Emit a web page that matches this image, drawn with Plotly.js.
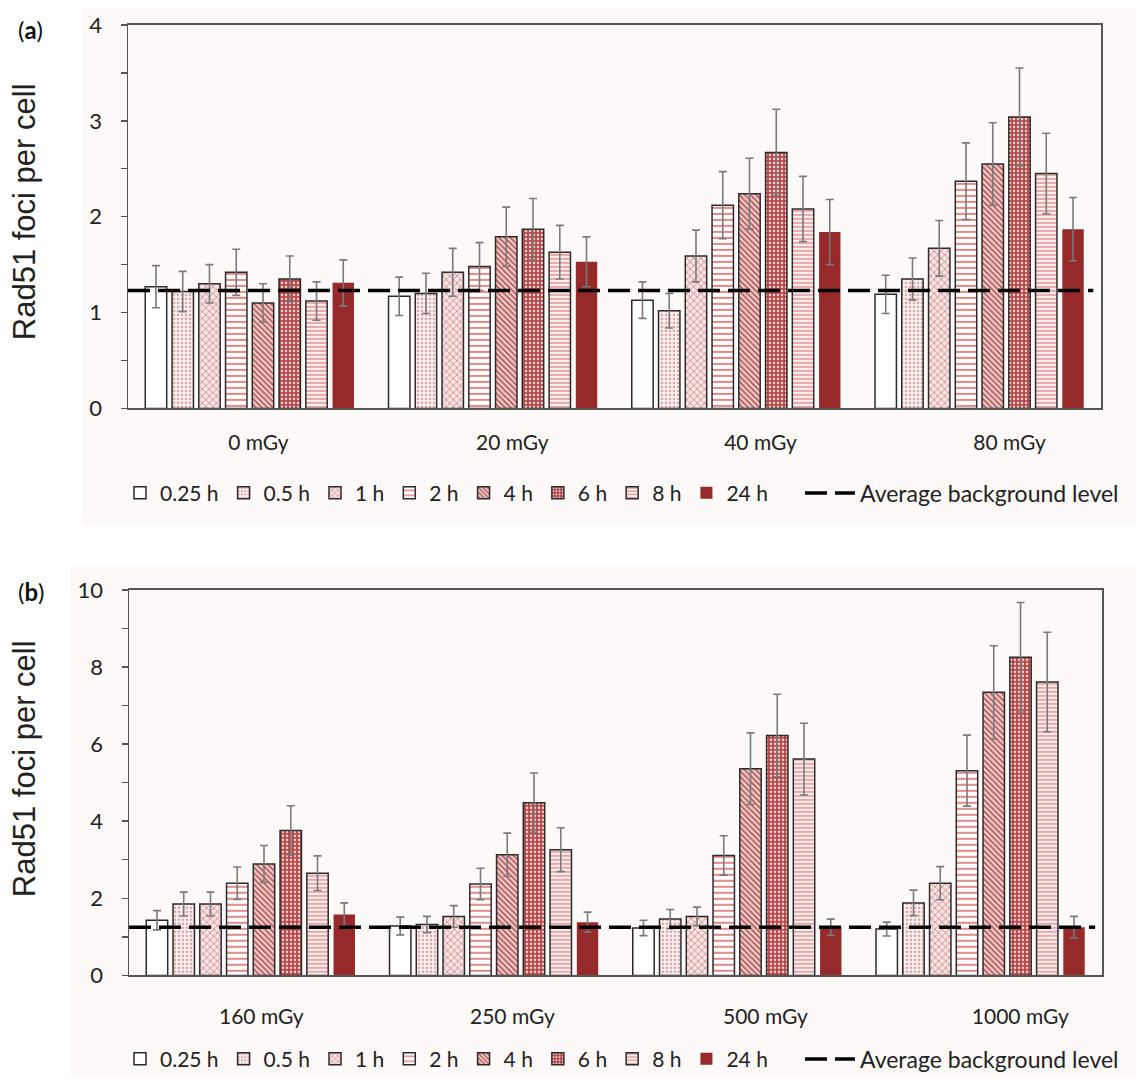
<!DOCTYPE html>
<html>
<head>
<meta charset="utf-8">
<script src="https://cdn.plot.ly/plotly-3.0.1.min.js"></script>
<style>html,body{margin:0;padding:0;background:#fff;}#chart{width:1136px;height:1081px;}</style>
</head>
<body>
<div id="chart"></div>
<script>
// ---- data ----
const categoriesA = ['0 mGy', '20 mGy', '40 mGy', '80 mGy'];
const categoriesB = ['160 mGy', '250 mGy', '500 mGy', '1000 mGy'];
const timepoints = ['0.25 h', '0.5 h', '1 h', '2 h', '4 h', '6 h', '8 h', '24 h'];

// panel (a): mean Rad51 foci per cell, one array per time point (across categoriesA)
const a_025 = [1.27, 1.17, 1.13, 1.19];
const a_05  = [1.22, 1.20, 1.02, 1.35];
const a_1   = [1.30, 1.42, 1.59, 1.67];
const a_2   = [1.42, 1.48, 2.12, 2.37];
const a_4   = [1.10, 1.79, 2.24, 2.55];
const a_6   = [1.35, 1.87, 2.67, 3.04];
const a_8   = [1.12, 1.63, 2.08, 2.45];
const a_24  = [1.31, 1.53, 1.84, 1.87];
// panel (a): error bars
const ea_025 = [0.22, 0.20, 0.19, 0.20];
const ea_05  = [0.21, 0.21, 0.18, 0.22];
const ea_1   = [0.20, 0.25, 0.27, 0.29];
const ea_2   = [0.24, 0.25, 0.35, 0.40];
const ea_4   = [0.20, 0.31, 0.37, 0.43];
const ea_6   = [0.24, 0.32, 0.45, 0.51];
const ea_8   = [0.20, 0.28, 0.34, 0.42];
const ea_24  = [0.24, 0.26, 0.34, 0.33];
const backgroundA = 1.23;

// panel (b)
const b_025 = [1.43, 1.28, 1.23, 1.20];
const b_05  = [1.85, 1.32, 1.46, 1.88];
const b_1   = [1.85, 1.53, 1.53, 2.39];
const b_2   = [2.39, 2.37, 3.11, 5.31];
const b_4   = [2.89, 3.13, 5.36, 7.34];
const b_6   = [3.76, 4.48, 6.22, 8.25];
const b_8   = [2.65, 3.26, 5.61, 7.61];
const b_24  = [1.58, 1.38, 1.25, 1.25];
const eb_025 = [0.25, 0.23, 0.20, 0.18];
const eb_05  = [0.31, 0.21, 0.25, 0.33];
const eb_1   = [0.31, 0.28, 0.24, 0.43];
const eb_2   = [0.42, 0.41, 0.51, 0.92];
const eb_4   = [0.48, 0.56, 0.93, 1.21];
const eb_6   = [0.64, 0.77, 1.07, 1.42];
const eb_8   = [0.45, 0.57, 0.93, 1.29];
const eb_24  = [0.30, 0.26, 0.21, 0.28];
const backgroundB = 1.25;

const seriesA = [a_025, a_05, a_1, a_2, a_4, a_6, a_8, a_24];
const errorsA = [ea_025, ea_05, ea_1, ea_2, ea_4, ea_6, ea_8, ea_24];
const seriesB = [b_025, b_05, b_1, b_2, b_4, b_6, b_8, b_24];
const errorsB = [eb_025, eb_05, eb_1, eb_2, eb_4, eb_6, eb_8, eb_24];

// ---- styles ----
const edge = '#2b2b2b';
const styles = [
  {color: '#ffffff', pattern: {shape: ''}, line: 1.5},
  {color: '#ffffff', pattern: {shape: '.', fgcolor: '#dca4a4', bgcolor: '#fbf1f1', size: 4, solidity: 0.35}, line: 1.5},
  {color: '#ffffff', pattern: {shape: 'x', fgcolor: '#d08a8a', bgcolor: '#f6e2e2', size: 5, solidity: 0.3}, line: 1.5},
  {color: '#ffffff', pattern: {shape: '-', fgcolor: '#de8c8c', bgcolor: '#ffffff', size: 6, solidity: 0.35}, line: 1.5},
  {color: '#ffffff', pattern: {shape: '\\', fgcolor: '#b65656', bgcolor: '#eed0d0', size: 4, solidity: 0.45}, line: 1.5},
  {color: '#ffffff', pattern: {shape: '.', fgcolor: '#f3d6d6', bgcolor: '#b24848', size: 4, solidity: 0.3}, line: 1.5},
  {color: '#ffffff', pattern: {shape: '-', fgcolor: '#e2a2a2', bgcolor: '#fbeeee', size: 4, solidity: 0.45}, line: 1.5},
  {color: '#962a2a', pattern: {shape: ''}, line: 0}
];

const labelFont = {family: 'Lato, "Open Sans", sans-serif', size: 21, color: '#222'};
const traces = [];

function addPanel(cats, series, errors, xa, ya, legendName) {
  series.forEach((vals, i) => {
    const s = styles[i];
    traces.push({
      type: 'bar', name: timepoints[i], x: cats, y: vals,
      xaxis: xa, yaxis: ya, legend: legendName,
      marker: {color: s.color, pattern: s.pattern, line: {color: edge, width: s.line}},
      error_y: {type: 'data', array: errors[i], visible: true, color: '#7a7a7a', thickness: 1.6, width: 4},
      hoverinfo: 'skip'
    });
  });
}
addPanel(categoriesA, seriesA, errorsA, 'x', 'y', 'legend');
addPanel(categoriesB, seriesB, errorsB, 'x2', 'y2', 'legend3');

traces.push({
  type: 'scatter', mode: 'lines', name: 'Average background level',
  x: [0, 0.992], y: [backgroundA, backgroundA], xaxis: 'x3', yaxis: 'y', legend: 'legend2',
  line: {color: '#000', width: 3.5, dash: '22px,8px'}, hoverinfo: 'skip'
});
traces.push({
  type: 'scatter', mode: 'lines', name: 'Average background level',
  x: [0, 0.993], y: [backgroundB, backgroundB], xaxis: 'x4', yaxis: 'y2', legend: 'legend4',
  line: {color: '#000', width: 3.5, dash: '22px,8px'}, hoverinfo: 'skip'
});

const W = 1136, H = 1081;
const px = v => v / W, py = v => 1 - v / H;

const yCommon = {
  showgrid: false, zeroline: false, showline: true, linecolor: '#555', linewidth: 1.5, mirror: true,
  ticks: 'outside', ticklen: 6, tickcolor: '#555', tickwidth: 1.5,
  tickfont: {family: 'Lato, "Open Sans", sans-serif', size: 22, color: '#222'}, ticklabelstandoff: 14
};
const xCommon = {
  type: 'category', showgrid: false, zeroline: false, showline: true, linecolor: '#555', linewidth: 1.5,
  mirror: true, ticks: '', showticklabels: false
};
const xLabelAxis = {
  range: [0, 1], showgrid: false, zeroline: false, showline: false, ticks: '',
  tickfont: labelFont, fixedrange: true
};
const legendFont = {family: 'Lato, "Open Sans", sans-serif', size: 21, color: '#222'};
const legendCommon = {
  orientation: 'h', xanchor: 'left', yanchor: 'middle', bgcolor: 'rgba(0,0,0,0)',
  font: legendFont, itemwidth: 30, traceorder: 'normal', itemclick: false
};
const legendLine = {font: {family: 'Lato, "Open Sans", sans-serif', size: 23, color: '#222'}, itemwidth: 50};

const layout = {
  width: W, height: H,
  margin: {l: 0, r: 0, t: 0, b: 0},
  paper_bgcolor: '#ffffff', plot_bgcolor: '#fdfafa',
  barmode: 'group', bargap: 0.12, bargroupgap: 0.2,
  showlegend: true,
  xaxis: Object.assign({}, xCommon, {domain: [px(128), px(1101)], anchor: 'y'}),
  yaxis: Object.assign({}, yCommon, {domain: [py(410), py(25)], anchor: 'x', range: [0, 4], dtick: 1,
    minor: {dtick: 0.5, ticks: 'outside', ticklen: 6, tickcolor: '#555', tickwidth: 1.5}}),
  xaxis2: Object.assign({}, xCommon, {domain: [px(129), px(1102)], anchor: 'y2'}),
  yaxis2: Object.assign({}, yCommon, {domain: [py(979), py(592)], anchor: 'x2', range: [0, 10], dtick: 2,
    minor: {dtick: 1, ticks: 'outside', ticklen: 6, tickcolor: '#555', tickwidth: 1.5}}),
  xaxis3: Object.assign({}, xLabelAxis, {overlaying: 'x', anchor: 'y', side: 'bottom', ticklabelstandoff: 20,
    tickvals: [0.134, 0.395, 0.650, 0.906], ticktext: categoriesA}),
  xaxis4: Object.assign({}, xLabelAxis, {overlaying: 'x2', anchor: 'y2', side: 'bottom', ticklabelstandoff: 27,
    tickvals: [0.136, 0.394, 0.654, 0.916], ticktext: categoriesB}),
  legend: Object.assign({}, legendCommon, {x: px(120), y: py(495)}),
  legend2: Object.assign({}, legendCommon, legendLine, {x: px(800), y: py(495)}),
  legend3: Object.assign({}, legendCommon, {x: px(120), y: py(1063)}),
  legend4: Object.assign({}, legendCommon, legendLine, {x: px(800), y: py(1063)}),
  shapes: [
    {type: 'rect', xref: 'paper', yref: 'paper', x0: px(82), x1: 1, y0: py(528), y1: py(8), fillcolor: '#fcf9f8', line: {width: 0}, layer: 'below'},
    {type: 'rect', xref: 'paper', yref: 'paper', x0: px(70), x1: 1, y0: 0, y1: py(568), fillcolor: '#fcf9f8', line: {width: 0}, layer: 'below'}
  ],
  annotations: [
    {text: '(<b>a</b>)', xref: 'paper', yref: 'paper', x: px(31), y: py(30), xanchor: 'center', yanchor: 'middle', showarrow: false,
      font: {family: 'Lato, sans-serif', size: 24, color: '#111'}},
    {text: '(<b>b</b>)', xref: 'paper', yref: 'paper', x: px(31), y: py(594), xanchor: 'center', yanchor: 'middle', showarrow: false,
      font: {family: 'Lato, sans-serif', size: 24, color: '#111'}},
    {text: 'Rad51 foci per cell', xref: 'paper', yref: 'paper', x: px(24), y: py(213), xanchor: 'center', yanchor: 'middle',
      textangle: -90, showarrow: false, font: {family: '"Liberation Sans", Arial, sans-serif', size: 31, color: '#222'}},
    {text: 'Rad51 foci per cell', xref: 'paper', yref: 'paper', x: px(24), y: py(772), xanchor: 'center', yanchor: 'middle',
      textangle: -90, showarrow: false, font: {family: '"Liberation Sans", Arial, sans-serif', size: 31, color: '#222'}}
  ]
};

Plotly.newPlot('chart', traces, layout, {displayModeBar: false, staticPlot: true});
</script>
</body>
</html>
